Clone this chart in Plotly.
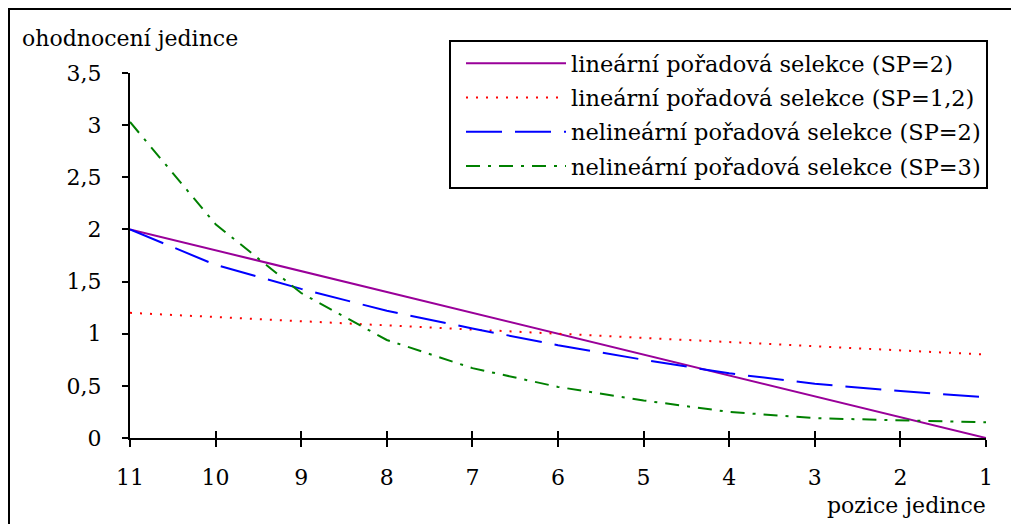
import plotly.graph_objects as go

positions = [11, 10, 9, 8, 7, 6, 5, 4, 3, 2, 1]
lin_sp2 = [2.0, 1.8, 1.6, 1.4, 1.2, 1.0, 0.8, 0.6, 0.4, 0.2, 0.0]
lin_sp12 = [1.2, 1.16, 1.12, 1.08, 1.04, 1.0, 0.96, 0.92, 0.88, 0.84, 0.8]
nonlin_sp2 = [2.0, 1.66, 1.43, 1.22, 1.05, 0.89, 0.75, 0.62, 0.52, 0.45, 0.39]
nonlin_sp3 = [3.03, 2.05, 1.39, 0.94, 0.67, 0.49, 0.36, 0.25, 0.19, 0.17, 0.15]

names = ["lineární pořadová selekce (SP=2)",
         "lineární pořadová selekce (SP=1,2)",
         "nelineární pořadová selekce (SP=2)",
         "nelineární pořadová selekce (SP=3)"]
series = [lin_sp2, lin_sp12, nonlin_sp2, nonlin_sp3]
colors = ["#990099", "#FF0000", "#0000FF", "#008000"]
dashes = ["solid", "2px,8px", "36px,13px", "14px,8px,3px,8px"]

y_ticks = [0, 0.5, 1, 1.5, 2, 2.5, 3, 3.5]
y_tick_text = ["0", "0,5", "1", "1,5", "2", "2,5", "3", "3,5"]

FONT = "DejaVu Serif"
FS = 22
LFS = 22.5

fig = go.Figure()
for i, (n, s, c, d) in enumerate(zip(names, series, colors, dashes)):
    fig.add_trace(go.Scatter(x=positions, y=s, name=n, mode="lines",
                             legendgroup=f"g{i}",
                             line=dict(color=c, width=2, dash=d)))

W, H = 1011, 524
L, R, T, B = 130, 25, 73, 86
pw, ph = W - L - R, H - T - B

def px(xp):
    return (xp - L) / pw

def py(yp):
    return (H - B - yp) / ph

fig.update_layout(
    width=W, height=H,
    margin=dict(l=L, r=R, t=T, b=B),
    paper_bgcolor="white", plot_bgcolor="white",
    font=dict(family=FONT, size=FS, color="black"),
    showlegend=True,
    legend=dict(x=px(449), y=py(40), xanchor="left", yanchor="top",
                bgcolor="white", bordercolor="black", borderwidth=2,
                font=dict(family=FONT, size=LFS), itemwidth=100,
                indentation=10, tracegroupgap=2),
    xaxis=dict(range=[11, 1], tickvals=positions, ticktext=[str(p) for p in positions],
               showline=True, linecolor="black", linewidth=2,
               ticks="outside", ticklen=7, tickwidth=2, tickcolor="black",
               showgrid=False, zeroline=False, ticklabelstandoff=12),
    xaxis2=dict(range=[11, 1], tickvals=positions, overlaying="x", anchor="y",
                side="bottom", showticklabels=False, ticks="inside", ticklen=7,
                tickwidth=2, tickcolor="black", showgrid=False, zeroline=False,
                showline=False),
    yaxis=dict(range=[0, 3.5], tickvals=y_ticks, ticktext=y_tick_text,
               showline=True, linecolor="black", linewidth=2,
               ticks="outside", ticklen=6, tickwidth=2, tickcolor="black",
               showgrid=False, zeroline=False, ticklabelstandoff=16),
    shapes=[dict(type="rect", xref="paper", yref="paper",
                 x0=px(9), x1=px(1020), y0=py(535), y1=py(9),
                 line=dict(color="black", width=2), fillcolor="rgba(0,0,0,0)",
                 layer="below")],
    annotations=[
        dict(text="ohodnocení jedince", xref="paper", yref="paper",
             x=px(20), y=py(38), xanchor="left", yanchor="middle",
             showarrow=False, font=dict(family=FONT, size=FS)),
        dict(text="pozice jedince", xref="paper", yref="paper",
             x=px(988), y=py(505), xanchor="right", yanchor="middle",
             showarrow=False, font=dict(family=FONT, size=FS)),
    ],
)
fig.add_trace(go.Scatter(x=[11, 1], y=[None, None], xaxis="x2", showlegend=False,
                         hoverinfo="skip"))

fig.write_html("out.html")
